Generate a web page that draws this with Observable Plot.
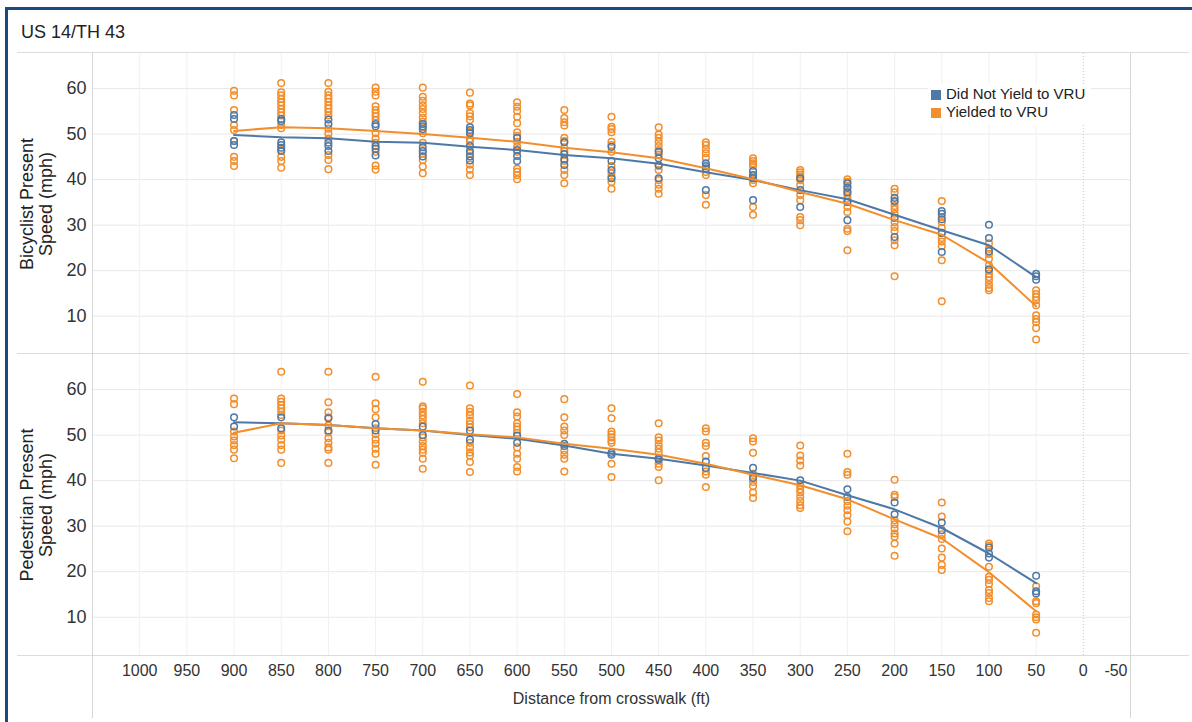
<!DOCTYPE html>
<html>
<head>
<meta charset="utf-8">
<script src="https://cdn.jsdelivr.net/npm/d3@7"></script>
<script src="https://cdn.jsdelivr.net/npm/@observablehq/plot@0.6"></script>
<style>
  body { margin: 0; background: #fff; font-family: "Liberation Sans", Arial, sans-serif; }
  #page { position: relative; width: 1192px; height: 722px; overflow: hidden; background: #fff; }
  #border { position: absolute; left: 5px; top: 7px; width: 1300px; height: 900px;
            border-left: 3px solid #1b4a7c; border-top: 3px solid #1b4a7c; }
  #title { position: absolute; left: 21px; top: 22px; font-size: 18px; color: #222; }
  .hline { position: absolute; left: 17px; width: 1172px; height: 1px; background: #dcdcdc; }
  .vline { position: absolute; top: 52px; width: 1px; height: 666px; background: #d6d6d6; }
  #chart { position: absolute; left: 0; top: 52px; }
  #legend { position: absolute; left: 928px; top: 84px; background: #fff; padding: 1px 6px 4px 3px;
            font-size: 15px; color: #222; line-height: 18px; }
  #legend .sw { display: inline-block; width: 10px; height: 10px; margin-right: 5px; vertical-align: -1px; }
</style>
</head>
<body>
<div id="page">
  <div id="border"></div>
  <div id="title">US 14/TH 43</div>
  <div class="hline" style="top:52px"></div>
  <div id="chart"></div>
  <div class="hline" style="top:353px"></div>
  <div class="hline" style="top:655px"></div>
  <div class="vline" style="left:92px"></div>
  <div class="vline" style="left:1130px"></div>
  <div id="legend"></div>
</div>
<script>
// Distances from the crosswalk (ft) at which speeds were sampled
const distances = [900, 850, 800, 750, 700, 650, 600, 550, 500, 450, 400, 350, 300, 250, 200, 150, 100, 50];
const xTicks = [1000, 950, 900, 850, 800, 750, 700, 650, 600, 550, 500, 450, 400, 350, 300, 250, 200, 150, 100, 50, 0, -50];
const yTicks = [10, 20, 30, 40, 50, 60];

const panels = ["Bicyclist", "Pedestrian"];
const panelTitles = ["Bicyclist Present\nSpeed (mph)", "Pedestrian Present\nSpeed (mph)"];
const series = ["Did Not Yield to VRU", "Yielded to VRU"];
const colors = ["#4e79a7", "#f28e2b"];

// Individual vehicle speeds (mph), one list per distance
const bikeNoYield = [
  [54.2, 53.3, 48.5, 47.6],
  [53.3, 52.9, 48.2, 47.6, 47.0, 46.3],
  [53.2, 52.2, 48.1, 47.4, 46.3],
  [52.2, 51.7, 47.4, 46.8, 45.3],
  [52.2, 51.7, 51.1, 47.1, 46.3, 45.1],
  [51.5, 50.9, 50.2, 47.4, 46.3, 45.1, 44.2],
  [49.2, 46.5, 45.2, 44.1],
  [48.2, 45.6, 44.5, 43.2],
  [47.2, 44.1, 42.1, 40.3],
  [46.1, 44.7, 43.2, 40.3],
  [43.6, 43.0, 42.5, 37.7],
  [41.9, 41.0, 40.3, 35.5],
  [40.3, 37.7, 34.0],
  [39.2, 38.2, 37.2, 35.1, 31.1],
  [36.0, 35.3, 31.6, 27.4],
  [33.1, 32.5, 31.3, 28.3, 24.1],
  [30.1, 27.2, 24.3, 20.3],
  [19.3, 18.8, 18.0]
];
const bikeYield = [
  [59.5, 58.5, 55.3, 52.0, 50.9, 48.5, 45.0, 44.1, 43.0],
  [61.2, 59.2, 58.5, 57.7, 57.0, 56.3, 55.5, 54.8, 54.1, 52.0, 51.3, 46.5, 45.0, 44.1, 42.6],
  [61.2, 59.3, 58.5, 57.8, 57.1, 56.3, 55.6, 54.9, 54.1, 51.2, 50.1, 49.0, 45.4, 44.3, 42.3],
  [60.2, 59.3, 58.5, 56.1, 55.3, 54.6, 53.9, 53.1, 50.2, 49.0, 48.1, 46.1, 43.1, 42.2],
  [60.2, 58.2, 57.3, 56.3, 55.5, 54.6, 53.6, 52.7, 50.2, 48.1, 45.8, 44.3, 42.9, 41.4],
  [59.1, 56.7, 56.3, 54.6, 53.9, 53.1, 50.5, 49.0, 48.4, 45.8, 43.3, 42.2, 41.0],
  [57.0, 56.0, 55.1, 53.8, 52.4, 50.4, 49.6, 48.3, 47.2, 46.1, 42.4, 41.7, 41.0, 40.1],
  [55.3, 53.5, 52.6, 51.9, 49.2, 48.5, 47.0, 46.3, 44.1, 42.1, 41.0, 39.2],
  [53.8, 51.6, 51.1, 50.4, 48.3, 47.6, 46.1, 43.0, 41.4, 40.6, 39.5, 38.0],
  [51.5, 49.9, 49.2, 48.3, 47.4, 46.5, 45.5, 43.0, 42.1, 39.9, 38.9, 38.0, 36.9],
  [48.2, 47.6, 46.7, 45.8, 44.8, 41.7, 41.0, 36.6, 34.5],
  [44.7, 44.1, 43.6, 43.0, 41.0, 39.9, 39.2, 34.0, 32.3],
  [42.1, 41.6, 41.1, 40.6, 39.9, 38.8, 36.6, 35.5, 31.8, 31.1, 30.0],
  [40.1, 39.5, 38.4, 37.5, 36.6, 35.8, 35.1, 34.0, 32.9, 29.2, 28.7, 24.5],
  [38.0, 37.2, 35.1, 34.2, 33.5, 32.5, 30.6, 29.6, 28.7, 26.7, 25.6, 18.8],
  [35.3, 31.8, 30.7, 29.4, 28.3, 27.2, 26.4, 25.4, 22.3, 13.3],
  [26.0, 24.8, 23.7, 22.6, 21.2, 20.1, 19.3, 18.6, 17.9, 16.9, 16.2, 15.7],
  [15.7, 14.9, 14.2, 13.5, 12.4, 10.2, 9.4, 8.7, 7.4, 4.9]
];
const pedNoYield = [
  [53.9, 51.9],
  [53.9, 51.5],
  [53.7, 51.0],
  [52.4, 51.0],
  [51.9, 50.0],
  [51.0, 49.0],
  [49.9, 48.3],
  [48.1, 47.6],
  [46.1, 45.7],
  [44.9, 44.6],
  [44.2, 42.8],
  [42.8, 40.6],
  [40.1],
  [38.1, 36.4],
  [35.2, 32.6],
  [30.8, 29.1],
  [25.3, 24.0, 23.1],
  [19.1, 15.7, 15.2]
];
const pedYield = [
  [58.0, 56.8, 50.8, 49.7, 48.8, 47.8, 46.8, 44.9],
  [63.9, 58.0, 57.3, 56.6, 55.9, 55.1, 54.4, 51.0, 49.9, 49.0, 47.8, 46.8, 43.9],
  [63.9, 57.2, 55.0, 53.9, 52.1, 50.6, 49.3, 48.3, 47.3, 46.8, 43.9],
  [62.8, 57.0, 55.7, 53.9, 51.5, 50.2, 49.0, 48.1, 47.0, 45.9, 43.5],
  [61.7, 56.3, 55.9, 55.1, 54.3, 53.5, 52.6, 49.5, 48.6, 47.6, 46.8, 46.1, 44.8, 42.6],
  [60.9, 55.9, 55.1, 54.3, 53.2, 52.4, 51.7, 48.3, 47.3, 46.2, 45.5, 44.1, 41.9],
  [59.0, 55.0, 54.1, 52.6, 51.9, 51.2, 50.5, 47.3, 45.9, 44.8, 43.0, 42.0],
  [57.9, 53.9, 51.9, 51.0, 50.0, 46.6, 45.7, 44.8, 42.0],
  [55.9, 53.7, 50.8, 50.2, 49.5, 48.8, 48.3, 43.7, 40.8],
  [52.6, 49.5, 48.8, 47.8, 47.0, 46.2, 43.7, 43.0, 40.1],
  [51.5, 50.8, 48.3, 47.6, 45.4, 42.0, 41.3, 38.6],
  [49.3, 48.6, 46.1, 41.5, 40.6, 39.7, 38.8, 37.4, 36.2],
  [47.7, 45.5, 44.4, 43.3, 39.0, 38.1, 37.4, 36.4, 35.5, 34.6, 34.0],
  [45.9, 41.9, 41.3, 35.5, 34.5, 33.5, 32.4, 31.0, 28.9],
  [40.2, 36.9, 36.4, 31.3, 30.4, 29.5, 28.4, 27.7, 26.2, 23.5],
  [35.2, 32.1, 28.2, 27.2, 25.1, 23.1, 21.5, 20.4],
  [26.2, 25.7, 21.1, 18.9, 18.2, 17.3, 16.0, 15.3, 14.2, 13.5],
  [16.8, 13.5, 13.1, 10.6, 10.0, 9.5, 6.6]
];

// Average speed (mph) at each distance
const bikeNoYieldAvg = [49.8, 49.3, 49.1, 48.3, 48.1, 47.2, 46.5, 45.4, 44.7, 43.5, 41.6, 39.9, 37.7, 35.7, 32.3, 28.9, 25.6, 18.6];
const bikeYieldAvg   = [50.7, 51.5, 51.3, 50.7, 50.0, 49.2, 48.3, 47.0, 46.0, 44.7, 42.5, 40.1, 37.3, 34.7, 31.1, 27.9, 21.7, 12.2];
const pedNoYieldAvg  = [52.8, 52.6, 52.2, 51.5, 51.0, 50.0, 49.2, 47.7, 45.9, 44.8, 43.3, 41.7, 40.0, 36.8, 33.7, 29.6, 24.0, 17.5];
const pedYieldAvg    = [50.5, 52.6, 52.2, 51.5, 51.0, 50.2, 49.5, 48.1, 47.0, 45.7, 43.7, 41.3, 39.0, 35.9, 31.5, 27.3, 19.9, 11.3];

// Flatten the lists into tidy rows
const groups = [
  {panel: panels[0], series: series[0], pts: bikeNoYield, avg: bikeNoYieldAvg},
  {panel: panels[0], series: series[1], pts: bikeYield, avg: bikeYieldAvg},
  {panel: panels[1], series: series[0], pts: pedNoYield, avg: pedNoYieldAvg},
  {panel: panels[1], series: series[1], pts: pedYield, avg: pedYieldAvg}
];
const points = [];
const averages = [];
for (const g of groups) {
  distances.forEach((d, i) => {
    for (const v of g.pts[i]) points.push({panel: g.panel, series: g.series, distance: d, speed: v});
    averages.push({panel: g.panel, series: g.series, distance: d, speed: g.avg[i]});
  });
}
// Yielded drawn first so the non-yielding circles sit on top
const orderedPoints = [...points.filter(d => d.series === series[1]), ...points.filter(d => d.series === series[0])];
const titles = panels.map((p, i) => ({panel: p, title: panelTitles[i]}));

const font = "'Liberation Sans', Arial, sans-serif";
const plain = d => `${d}`;

const chart = Plot.plot({
  width: 1192,
  height: 670,
  marginLeft: 92,
  marginRight: 62,
  marginTop: 0,
  marginBottom: 67,
  style: {fontFamily: font, fontSize: "17px", color: "#333", background: "transparent", overflow: "visible"},
  x: {domain: [1050, -50]},
  y: {domain: [1.6, 67.7]},
  fy: {domain: panels, padding: 0, axis: null, label: null},
  color: {domain: series, range: colors},
  marks: [
    Plot.gridY(yTicks, {stroke: "#e8e8e8", strokeOpacity: 1}),
    Plot.gridX(xTicks.filter(d => d !== 0 && d !== -50), {stroke: "#f0f0f0", strokeOpacity: 1}),
    Plot.ruleX([0], {stroke: "#c8c8c8", strokeDasharray: "1,2"}),
    Plot.axisY(yTicks, {tickSize: 0, tickPadding: 6, fontSize: 18, label: null, tickFormat: plain}),
    Plot.axisX(xTicks.filter(d => d !== -50), {
      tickSize: 0, tickPadding: 9, fontSize: 16, tickFormat: plain,
      label: "Distance from crosswalk (ft)", labelAnchor: "center", labelOffset: 48, labelArrow: "none"
    }),
    Plot.axisX([-50], {tickSize: 0, tickPadding: 9, fontSize: 16, textAnchor: "end", dx: -3, label: null, tickFormat: plain}),
    Plot.text(titles, {
      fy: "panel", text: "title", frameAnchor: "left", textAnchor: "middle", rotate: -90, dx: -56,
      lineAnchor: "middle", fontSize: 18, fill: "#222", lineHeight: 1.05
    }),
    Plot.dot(orderedPoints, {
      x: "distance", y: "speed", fy: "panel", stroke: "series", r: 3.3, strokeWidth: 1.5, fill: "none"
    }),
    Plot.line(averages, {
      x: "distance", y: "speed", fy: "panel", z: "series", stroke: "series", strokeWidth: 2
    })
  ]
});
document.getElementById("chart").appendChild(chart);

// Legend for the two driver-yield outcomes
const legend = document.getElementById("legend");
series.forEach((s, i) => {
  const row = document.createElement("div");
  row.innerHTML = `<span class="sw" style="background:${colors[i]}"></span>${s}`;
  legend.appendChild(row);
});
</script>
</body>
</html>
